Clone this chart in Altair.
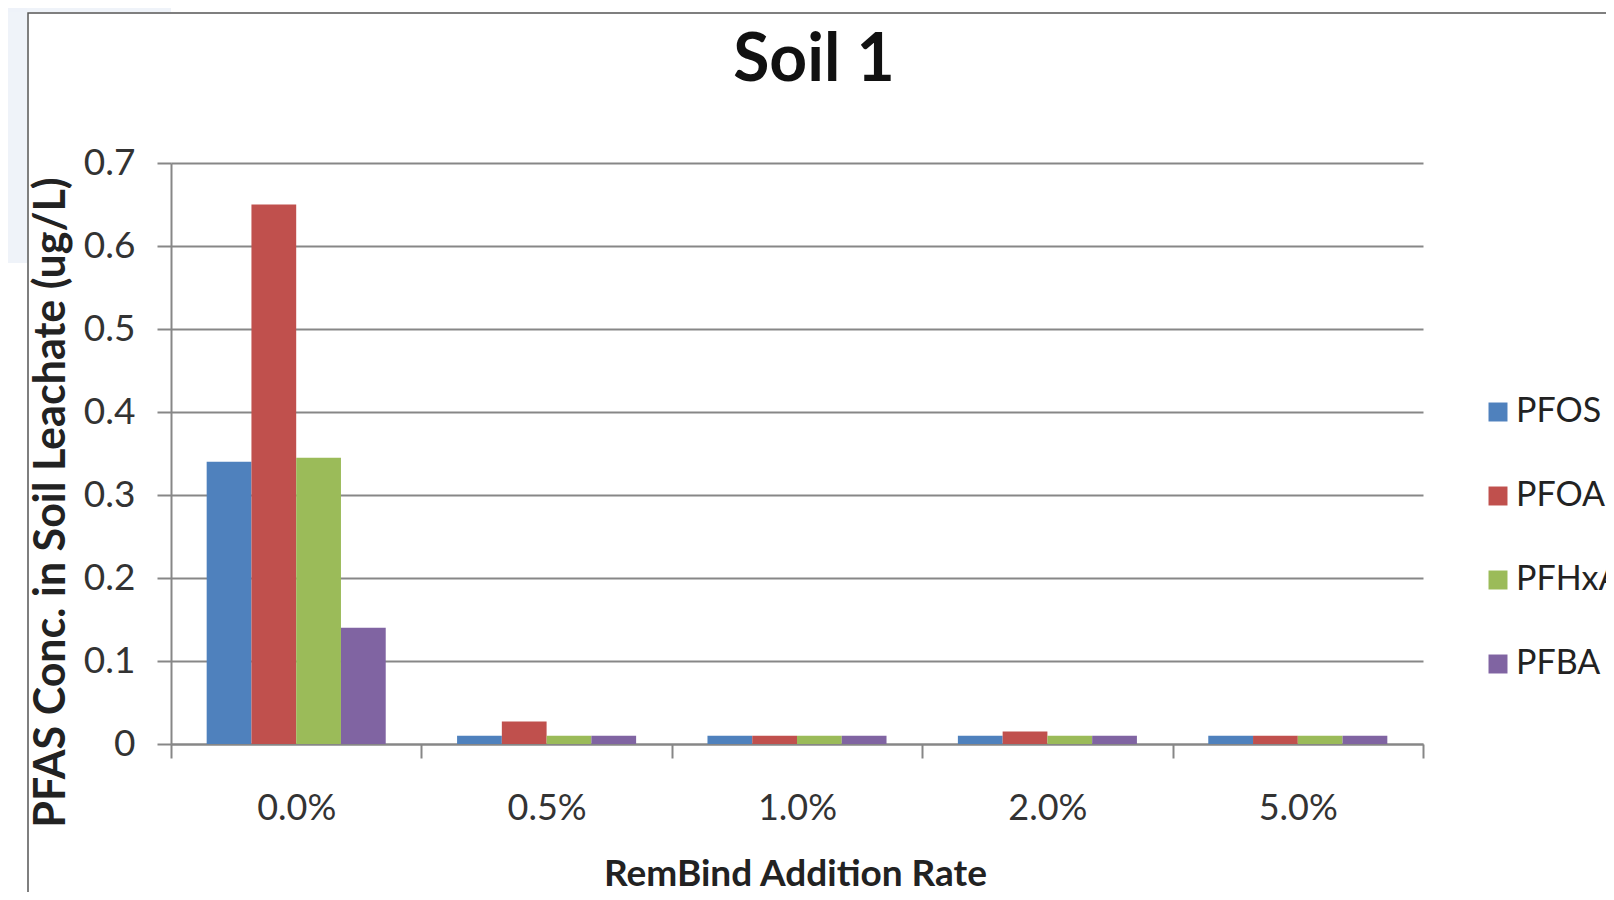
import altair as alt
import pandas as pd

categories = ["0.0%", "0.5%", "1.0%", "2.0%", "5.0%"]
series = ["PFOS", "PFOA", "PFHxA", "PFBA"]
pfos = [0.34, 0.01, 0.01, 0.01, 0.01]
pfoa = [0.65, 0.027, 0.01, 0.015, 0.01]
pfhxa = [0.345, 0.01, 0.01, 0.01, 0.01]
pfba = [0.14, 0.01, 0.01, 0.01, 0.01]
colors = ["#4F81BD", "#C0504D", "#9BBB59", "#8064A2"]
y_ticks = [0, 0.1, 0.2, 0.3, 0.4, 0.5, 0.6, 0.7]

rows = []
for s, vals in zip(series, [pfos, pfoa, pfhxa, pfba]):
    for c, v in zip(categories, vals):
        rows.append({"rate": c, "compound": s, "conc": v})
df = pd.DataFrame(rows)

FONT = "Lato"
GRID = "#878787"
W, H = 1252, 581

bars = alt.Chart(df).mark_bar().encode(
    x=alt.X("rate:N", sort=categories,
            scale=alt.Scale(paddingInner=0, paddingOuter=0),
            axis=alt.Axis(title="RemBind Addition Rate", labelAngle=0,
                          tickBand="extent", tickSize=14, tickColor=GRID,
                          tickWidth=2, domainColor=GRID, domainWidth=2,
                          labelFont=FONT, labelFontSize=36, labelColor="#333333",
                          labelPadding=33,
                          titleFont=FONT, titleFontSize=37, titleFontWeight="bold",
                          titleColor="#222222", titleX=W / 2 - 2, titleY=141,
                          titleBaseline="alphabetic", titleAlign="center")),
    xOffset=alt.XOffset("compound:N", sort=series,
                        scale=alt.Scale(paddingInner=0, paddingOuter=0.797)),
    y=alt.Y("conc:Q", scale=alt.Scale(domain=[0, 0.7], nice=False),
            axis=alt.Axis(title="PFAS  Conc. in Soil Leachate (ug/L)", values=y_ticks,
                          labelExpr="datum.value == 0 ? '0' : format(datum.value, '.1f')",
                          tickSize=14, tickColor=GRID, tickWidth=2,
                          domainColor=GRID, domainWidth=2,
                          gridColor=GRID, gridWidth=2.2,
                          labelFont=FONT, labelFontSize=37, labelColor="#333333",
                          labelPadding=22,
                          titleFont=FONT, titleFontSize=43, titleFontWeight="bold",
                          titleColor="#222222", titleX=-120, titleY=339,
                          titleAngle=270, titleBaseline="middle", titleAlign="center")),
    color=alt.Color("compound:N", sort=series,
                    scale=alt.Scale(domain=series, range=colors),
                    legend=alt.Legend(title=None, orient="none", legendX=1310, legendY=232,
                                      symbolType="square", symbolSize=360,
                                      symbolStrokeWidth=0,
                                      labelFont=FONT, labelFontSize=34,
                                      labelColor="#222222", labelOffset=1,
                                      rowPadding=50)),
)

shade = alt.Chart(alt.Data(values=[{}])).mark_rect(
    fill="#edf2f8", opacity=0.9
).encode(x=alt.value(-163), x2=alt.value(-144), y=alt.value(-155), y2=alt.value(100))

shade_top = alt.Chart(alt.Data(values=[{}])).mark_rect(
    fill="#edf2f8", opacity=0.9
).encode(x=alt.value(-163), x2=alt.value(0), y=alt.value(-155), y2=alt.value(-151))

frame = alt.Chart(alt.Data(values=[{}])).mark_rect(
    fill=None, stroke="#555555", strokeWidth=1.5
).encode(x=alt.value(-143), x2=alt.value(1600), y=alt.value(-150), y2=alt.value(900))

chart = alt.layer(shade, shade_top, frame, bars).properties(
    width=W, height=H,
    autosize=alt.AutoSizeParams(type="none"),
    padding={"left": 163, "top": 155, "right": 183, "bottom": 148},
    title=alt.TitleParams("Soil 1", font=FONT, fontSize=66, fontWeight="bold",
                          color="#111111", anchor="middle", frame="group",
                          dx=17, offset=-87),
).configure_view(stroke=None).configure_axisX(grid=False)

chart.save("out.html", embed_options={"renderer": "svg", "actions": False})
